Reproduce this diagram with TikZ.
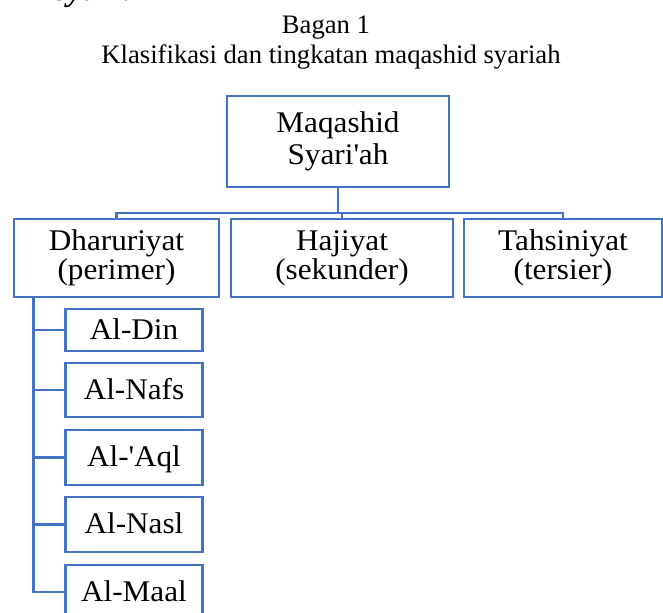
\documentclass[tikz,border=0pt]{standalone}
\usepackage{fontspec}
\setmainfont{Liberation Serif}
\newfontfamily\boxfont{Liberation Serif}[FakeStretch=1.04]
\definecolor{wordblue}{HTML}{4472C4}
\begin{document}
\begin{tikzpicture}[x=0.75pt, y=-0.75pt,
  box/.style={draw=wordblue, line width=1.8pt, align=center, inner sep=0pt,
    font=\boxfont\fontsize{22.5}{24}\selectfont},
  level/.style={box, minimum height=58.5pt, font=\boxfont\fontsize{22.5}{21.75}\selectfont},
  leaf/.style={box, minimum width=102.75pt, minimum height=40.9pt,
    text height=17pt, text depth=3.2pt},
  link/.style={draw=wordblue, line width=1.8pt}]
  \useasboundingbox (0,0) rectangle (663,613);
  \clip (0,0) rectangle (663,613);

  \node[anchor=base west, font=\fontsize{25}{25}\selectfont\bfseries\itshape] (head) at (50,0.5) {syariah};
  \node[anchor=base, font=\fontsize{20}{22}\selectfont] (bagan) at (326,34) {Bagan 1};
  \node[anchor=base, font=\fontsize{20}{22}\selectfont] (judul) at (331,64) {Klasifikasi dan tingkatan maqashid syariah};

  \node[box, minimum width=166.5pt, minimum height=68.25pt] (maq) at (338,141.5) {Maqashid\\Syari\textquotesingle ah};

  \node[level, minimum width=153.75pt] (dha) at (116.5,258) {Dharuriyat\\(perimer)};
  \node[level, minimum width=166.5pt] (haj) at (342,258) {Hajiyat\\(sekunder)};
  \node[level, minimum width=148.5pt] (tah) at (563,258) {Tahsiniyat\\(tersier)};

  \node[leaf, minimum height=31.5pt] (din) at (134,330) {Al-Din};
  \node[leaf] (nafs) at (134,390) {Al-Nafs};
  \node[leaf] (aql) at (134,457.5) {Al-\textquotesingle Aql};
  \node[leaf] (nasl) at (134,524.5) {Al-Nasl};
  \node[leaf] (maal) at (134,592) {Al-Maal};

  \coordinate (bus) at (338,213);
  \draw[link] (maq.south) -- (bus);
  \foreach \n in {dha,haj,tah}
    \draw[link] (bus) -| (\n.north);

  \coordinate (trunk) at ([xshift=15.4pt]dha.south west);
  \foreach \n in {din,nafs,aql,nasl,maal}
    \draw[link] (trunk) |- (\n.west);
\end{tikzpicture}
\end{document}
